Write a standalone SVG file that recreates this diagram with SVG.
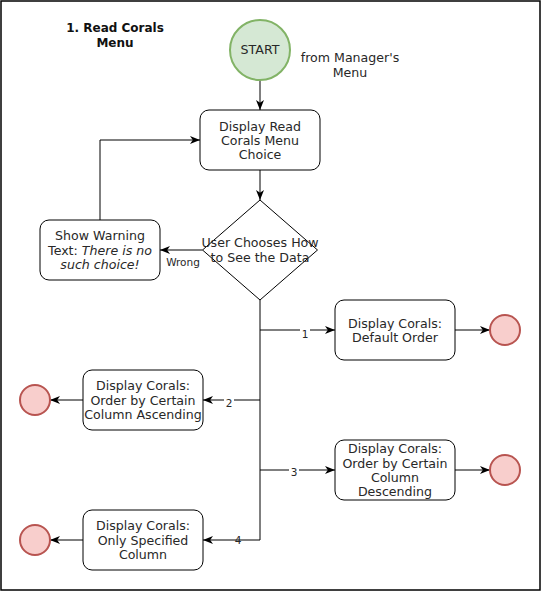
<svg xmlns="http://www.w3.org/2000/svg" width="542" height="592" viewBox="0 0 542 592">
<defs>
<marker id="arr" markerWidth="11" markerHeight="9" refX="10" refY="4.5" orient="auto" markerUnits="userSpaceOnUse">
<path d="M0,0.5 L10,4.5 L0,8.5 L2.8,4.5 z" fill="#000"/>
</marker>
<style>
text{font-family:"DejaVu Sans",Verdana,sans-serif;font-size:12.6px;fill:#282828;text-anchor:middle}
.t{font-weight:bold;font-size:12px;fill:#111}
.lbl{font-size:10.5px}
.box{fill:#fff;stroke:#000;stroke-width:1}
.end{fill:#f8cecc;stroke:#b85450;stroke-width:2}
.edge{fill:none;stroke:#000;stroke-width:1}
.arrow{marker-end:url(#arr)}
.bg{fill:#fff}
</style>
</defs>
<rect x="0" y="0" width="542" height="592" fill="#fff"/>
<rect x="1" y="1" width="539" height="589" fill="none" stroke="#000" stroke-width="1.5"/>

<g id="title">
<text class="t" x="115" y="31.5">1. Read Corals</text>
<text class="t" x="115" y="46.5">Menu</text>
</g>

<g id="connectors">
<path class="edge arrow" d="M260,80 L260,110"/>
<path class="edge arrow" d="M260,170 L260,200"/>
<path class="edge arrow" d="M202.5,250 L160,250"/>
<path class="edge arrow" d="M100,220 L100,140 L200,140"/>
<path class="edge" d="M260,300 L260,540"/>
<path class="edge arrow" d="M260,330 L335,330"/>
<path class="edge arrow" d="M260,400 L203,400"/>
<path class="edge arrow" d="M260,470 L335,470"/>
<path class="edge arrow" d="M260,540 L203,540"/>
<path class="edge arrow" d="M455,330 L490,330"/>
<path class="edge arrow" d="M455,470 L490,470"/>
<path class="edge arrow" d="M83,400 L50,400"/>
<path class="edge arrow" d="M83,540 L50,540"/>
<text class="lbl" x="183" y="266">Wrong</text>
<rect class="bg" x="300" y="327" width="10" height="12"/>
<text class="lbl" x="305" y="338">1</text>
<rect class="bg" x="224" y="397" width="10" height="12"/>
<text class="lbl" x="229" y="407">2</text>
<rect class="bg" x="289" y="466" width="10" height="12"/>
<text class="lbl" x="294" y="476">3</text>
<rect class="bg" x="234" y="535" width="8" height="4"/>
<text class="lbl" x="238" y="544">4</text>
</g>

<g id="start">
<circle cx="260" cy="50" r="30" fill="#d5e8d4" stroke="#82b366" stroke-width="2"/>
<text x="260" y="54">START</text>
</g>

<g id="from-label">
<text x="350" y="62">from Manager's</text>
<text x="350" y="76.5">Menu</text>
</g>

<g id="read-menu">
<rect class="box" x="200" y="110" width="120" height="60" rx="9"/>
<text x="260" y="130.5">Display Read</text>
<text x="260" y="144.5">Corals Menu</text>
<text x="260" y="159">Choice</text>
</g>

<g id="decision">
<polygon class="box" points="260,200 317.5,250 260,300 202.5,250"/>
<text x="260" y="247">User Chooses How</text>
<text x="260" y="262">to See the Data</text>
</g>

<g id="warning">
<rect class="box" x="40" y="220" width="120" height="60" rx="9"/>
<text x="100" y="239.5">Show Warning</text>
<text x="100" y="254.5">Text: <tspan font-style="italic">There is no</tspan></text>
<text x="100" y="268.5" font-style="italic">such choice!</text>
</g>

<g id="default-order">
<rect class="box" x="335" y="300" width="120" height="60" rx="9"/>
<text x="395" y="328">Display Corals:</text>
<text x="395" y="342">Default Order</text>
</g>

<g id="ascending">
<rect class="box" x="83" y="370" width="120" height="60" rx="9"/>
<text x="143" y="390">Display Corals:</text>
<text x="143" y="404.5">Order by Certain</text>
<text x="143" y="418.5">Column Ascending</text>
</g>

<g id="descending">
<rect class="box" x="335" y="440" width="120" height="60" rx="9"/>
<text x="395" y="453">Display Corals:</text>
<text x="395" y="467.5">Order by Certain</text>
<text x="395" y="482">Column</text>
<text x="395" y="496">Descending</text>
</g>

<g id="specified">
<rect class="box" x="83" y="510" width="120" height="60" rx="9"/>
<text x="143" y="530">Display Corals:</text>
<text x="143" y="544.5">Only Specified</text>
<text x="143" y="558.5">Column</text>
</g>

<g id="end1"><circle class="end" cx="505" cy="330" r="15"/></g>
<g id="end2"><circle class="end" cx="35" cy="400" r="15"/></g>
<g id="end3"><circle class="end" cx="505" cy="470" r="15"/></g>
<g id="end4"><circle class="end" cx="35" cy="540" r="15"/></g>
</svg>
